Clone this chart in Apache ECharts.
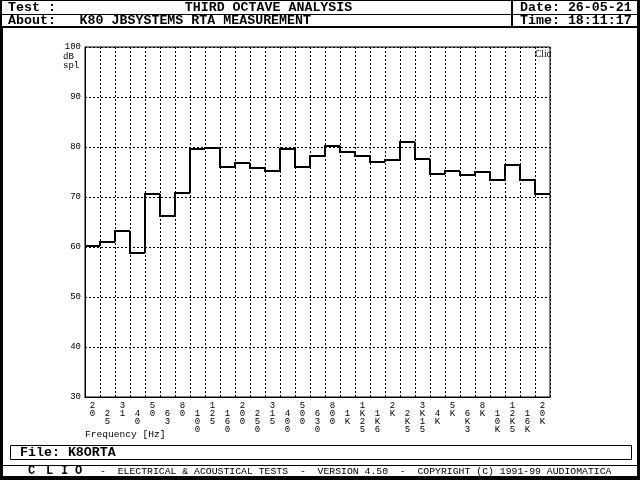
<!DOCTYPE html>
<html>
<head>
<meta charset="utf-8">
<script src="https://cdn.jsdelivr.net/npm/echarts@6/dist/echarts.min.js"></script>
<style>
html,body{margin:0;padding:0;background:#fff;}
#c{width:640px;height:480px;}
</style>
</head>
<body>
<div id="c"></div>
<script>
var freqLabels = ['20','25','31','40','50','63','80','100','125','160','200','250','315','400','500','630','800','1K','1K25','1K6','2K','2K5','3K15','4K','5K','6K3','8K','10K','12K5','16K','20K'];
var levels = [60.3, 61.1, 63.3, 58.9, 70.5, 66.3, 70.8, 79.5, 79.7, 76.1, 76.9, 75.7, 75.2, 79.5, 75.9, 78.2, 80.3, 79.1, 78.2, 77.1, 77.4, 81.1, 77.6, 74.6, 75.2, 74.4, 75.0, 73.4, 76.4, 73.4, 70.6];
var yTicks = [30, 100, 10]; // min, max, interval

var MONO = '"Liberation Mono", "DejaVu Sans Mono", monospace';
var chart = echarts.init(document.getElementById('c'), null, {renderer: 'canvas'});

function txt(x, y, s, size, bold, align, family) {
  return {type: 'text', x: x, y: y, silent: true,
    style: {text: s, fill: '#000', font: (bold ? 'bold ' : '') + size + 'px ' + (family || MONO),
      textAlign: align || 'left', textVerticalAlign: 'middle'}};
}
function box(x, y, w, h) {
  return {type: 'rect', shape: {x: x, y: y, width: w, height: h}, style: {fill: '#000'}, silent: true};
}

var option = {
  animation: false,
  backgroundColor: '#fff',
  grid: {left: 85, top: 47, width: 465, height: 350, show: true, borderColor: '#000', borderWidth: 1, backgroundColor: 'transparent'},
  xAxis: {
    type: 'category',
    data: freqLabels,
    boundaryGap: true,
    axisLine: {show: true, lineStyle: {color: '#000', width: 1}},
    axisTick: {show: false},
    splitLine: {show: true, interval: 0, lineStyle: {color: '#000', width: 1, type: [2, 2]}},
    axisLabel: {
      interval: 0, margin: 5, color: '#000', fontSize: 9, fontFamily: MONO, lineHeight: 8,
      verticalAlign: 'top',
      formatter: function (v, i) { var s = v.split('').join('\n'); return (i % 2 === 1 ? '\n' : '') + s; }
    }
  },
  yAxis: {
    type: 'value', min: yTicks[0], max: yTicks[1], interval: yTicks[2],
    axisLine: {show: true, lineStyle: {color: '#000', width: 1}},
    axisTick: {show: false},
    splitLine: {show: true, lineStyle: {color: '#000', width: 1, type: [2, 2]}},
    axisLabel: {color: '#000', fontSize: 9, fontFamily: MONO, margin: 4}
  },
  series: [{
    type: 'custom',
    data: levels.map(function (v, i) { return [i, v]; }),
    renderItem: function (params, api) {
      var i = params.dataIndex;
      var c = api.coord([api.value(0), api.value(1)]);
      var w = api.size([1, 0])[0];
      var left = Math.round(c[0] - w / 2), right = Math.round(c[0] + w / 2);
      var y = Math.round(c[1]);
      var pts = [];
      if (i > 0) {
        var pc = api.coord([i - 1, levels[i - 1]]);
        pts.push([left, Math.round(pc[1])]);
      }
      pts.push([left, y]);
      pts.push([right, y]);
      return {type: 'polyline', shape: {points: pts}, style: {stroke: '#000', lineWidth: 2, fill: null, lineJoin: 'miter'}};
    }
  }],
  graphic: [
    box(0, 0, 640, 1),
    box(0, 14, 640, 1),
    box(0, 26, 640, 2),
    box(0, 0, 2, 480),
    box(0, 27, 3, 453),
    box(637, 0, 3, 480),
    box(0, 476, 640, 4),
    box(511, 0, 2, 27),
    box(0, 465, 640, 1),
    {type: 'rect', shape: {x: 10.5, y: 445.5, width: 621, height: 14}, style: {fill: null, stroke: '#000', lineWidth: 1}, silent: true},
    txt(8, 8, 'Test :', 13.3, true),
    txt(268.5, 8, 'THIRD OCTAVE ANALYSIS', 13.3, true, 'center'),
    txt(520, 8, 'Date: 26-05-21', 13.3, true),
    txt(8, 20.5, 'About:', 13.3, true),
    txt(79.6, 20.5, 'K80 JBSYSTEMS RTA MEASUREMENT', 13.3, true),
    txt(520, 20.5, 'Time: 18:11:17', 13.3, true),
    txt(20, 452.5, 'File: K8ORTA', 13.3, true),
    txt(28, 471, 'C', 12, true),
    txt(46, 471, 'L', 12, true),
    txt(61, 471, 'I', 12, true),
    txt(75, 471, 'O', 12, true),
    txt(100, 471, '-  ELECTRICAL & ACOUSTICAL TESTS  -  VERSION 4.50  -  COPYRIGHT (C) 1991-99 AUDIOMATICA', 9.8, false),
    txt(85, 434, 'Frequency [Hz]', 9.6, false),
    txt(63, 57, 'dB', 9, false),
    txt(63, 66, 'spl', 9, false),
    txt(535, 54, 'Clio', 9.5, false, 'left', '"Liberation Serif", serif')
  ]
};
chart.setOption(option);
</script>
</body>
</html>
